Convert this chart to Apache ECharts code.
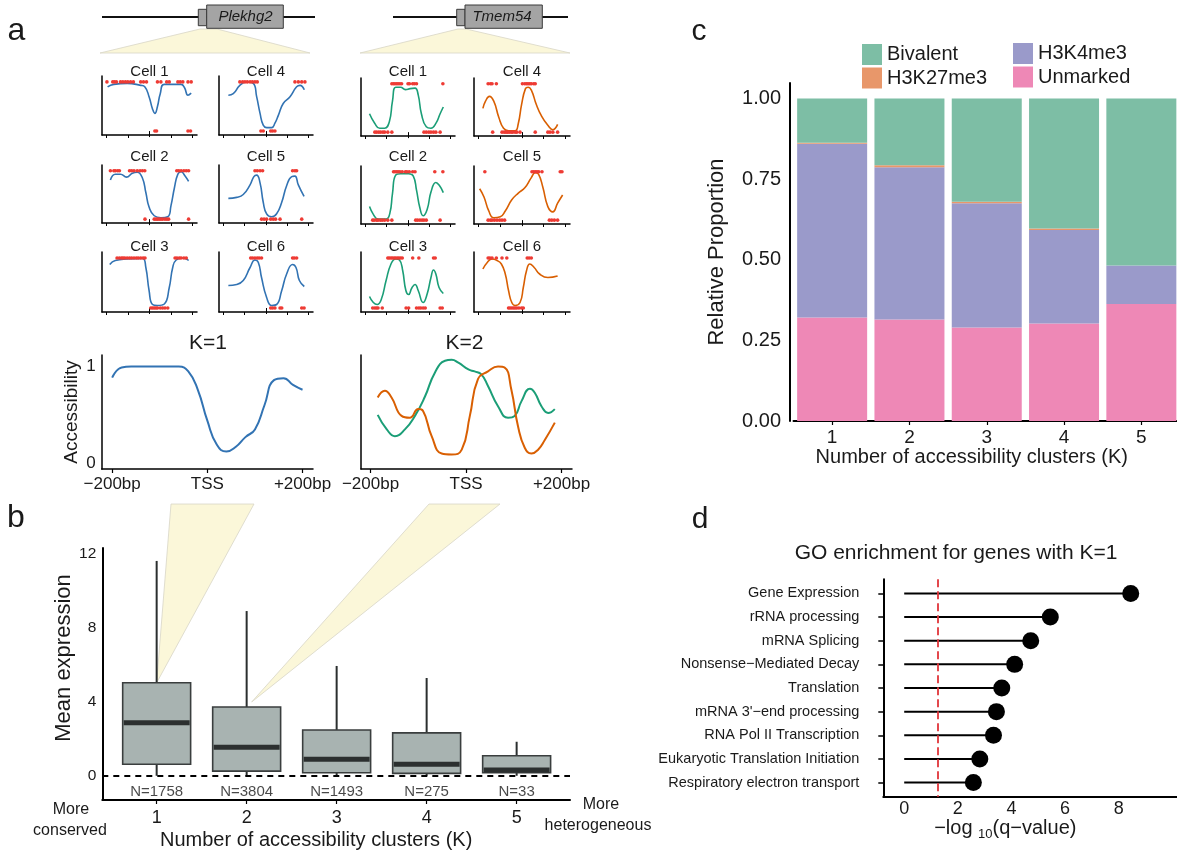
<!DOCTYPE html>
<html>
<head>
<meta charset="utf-8">
<script src="https://cdn.jsdelivr.net/npm/echarts@6/dist/echarts.min.js"></script>
<style>
  html, body { margin: 0; padding: 0; background: #fff; }
  #chart { width: 1177px; height: 853px; }
</style>
</head>
<body>
<div id="chart"></div>
<script>
const FONT = '"Liberation Sans", Arial, Helvetica, sans-serif';
const INK = '#1a1a1a';

// ---------- Panel a: single-cell accessibility around the TSS ----------
// curve: [bp from TSS, smoothed accessibility]; open / closed: read positions (bp)
const plekCell1Curve = [[-194,0.9],[-165,0.95],[-103,0.97],[-40,0.93],[-21,0.9],[-1,0.7],[15,0.45],[26,0.36],[38,0.5],[51,0.76],[70,0.95],[148,0.95],[164,0.88],[180,0.73],[195,0.77]];
const plekCell1Open = [-197,-170,-162,-153,-134,-123,-111,-100,-87,-74,-40,-27,-13,38,54,81,93,133,144,156,180,195];
const plekCell1Closed = [26,34,180,192];
const plekCell2Curve = [[-181,0.81],[-158,0.93],[-134,0.93],[-106,0.87],[-79,0.95],[-56,0.97],[-32,0.85],[-16,0.55],[-1,0.25],[23,0.07],[54,0.03],[86,0.05],[101,0.28],[117,0.65],[133,0.93],[148,0.98],[164,0.91],[183,0.78]];
const plekCell2Open = [-181,-165,-158,-147,-139,-92,-82,-71,-56,-43,-32,-21,128,137,148,161,172,183];
const plekCell2Closed = [-20,23,31,38,46,54,62,73,82,90,183];
const plekCell3Curve = [[-184,0.87],[-158,0.95],[-103,0.98],[-32,0.99],[-16,0.81],[-1,0.35],[15,0.07],[38,0.05],[70,0.08],[93,0.41],[109,0.81],[125,0.96],[156,1.0],[172,0.98],[183,0.95]];
const plekCell3Open = [-150,-139,-129,-122,-114,-103,-92,-82,-71,-60,-51,-40,-29,-20,120,129,140,148,161,172];
const plekCell3Closed = [7,15,23,31,38,51,62,73,86];
const plekCell4Curve = [[-176,0.73],[-153,0.76],[-122,0.93],[-90,1.0],[-59,0.97],[-43,0.7],[-27,0.36],[-12,0.12],[4,0.07],[28,0.07],[43,0.16],[59,0.32],[82,0.56],[114,0.7],[145,0.9],[161,0.93],[181,0.84]];
const plekCell4Open = [-122,-109,-98,-87,-74,-63,-51,-40,137,153,169,184];
const plekCell4Closed = [-23,-12,23,32,43];
const plekCell5Curve = [[-176,0.43],[-137,0.45],[-106,0.51],[-74,0.71],[-56,0.88],[-43,0.91],[-27,0.75],[-12,0.35],[4,0.11],[28,0.05],[51,0.11],[75,0.35],[98,0.69],[122,0.88],[137,0.89],[153,0.71],[180,0.47]];
const plekCell5Open = [-51,-40,-27,-15,126,137,145];
const plekCell5Closed = [-20,-8,4,23,35,46,67,169];
const plekCell6Curve = [[-176,0.45],[-137,0.47],[-106,0.55],[-74,0.81],[-51,0.96],[-35,0.91],[-20,0.61],[4,0.21],[28,0.05],[51,0.07],[75,0.35],[98,0.68],[126,0.87],[142,0.81],[158,0.55],[181,0.43]];
const plekCell6Open = [-71,-62,-51,-40,-31,-20,126,134,145];
const plekCell6Closed = [23,32,43,67,75,169,180];

const tmemCell1Curve = [[-180,0.38],[-155,0.18],[-132,0.08],[-109,0.08],[-87,0.21],[-72,0.64],[-57,0.93],[-34,0.93],[-11,0.88],[11,0.9],[34,0.91],[49,0.77],[64,0.38],[87,0.11],[109,0.08],[132,0.18],[152,0.38],[167,0.52]];
const tmemCell1Open = [-75,-67,-60,-52,-45,-37,-29,1,8,23,31,41,165];
const tmemCell1Closed = [-155,-147,-137,-128,-117,-109,-94,-75,76,87,99,109,121,132,152];
const tmemCell2Curve = [[-180,0.28],[-162,0.12],[-140,0.02],[-102,0.02],[-84,0.15],[-72,0.55],[-57,0.93],[-34,0.96],[4,0.96],[26,0.91],[41,0.62],[57,0.25],[72,0.09],[91,0.22],[109,0.58],[132,0.78],[148,0.72],[167,0.57]];
const tmemCell2Open = [-67,-60,-52,-45,-37,-26,-11,-4,7,23,34,127,165];
const tmemCell2Closed = [-165,-158,-147,-140,-129,-120,-109,-94,-75,37,46,57,67,76,87,152];
const tmemCell3Curve = [[-180,0.23],[-162,0.11],[-144,0.07],[-124,0.18],[-102,0.55],[-79,0.88],[-57,0.98],[-39,0.96],[-24,0.75],[-9,0.35],[4,0.27],[19,0.4],[34,0.47],[49,0.35],[72,0.11],[91,0.28],[109,0.61],[121,0.76],[132,0.68],[147,0.41],[167,0.29]];
const tmemCell3Open = [-94,-87,-79,-72,-64,-57,-49,-42,-34,-26,23,52,121,129];
const tmemCell3Closed = [-165,-155,-147,-140,-120,-8,4,41,52,61,72,82,152,162];
const tmemCell4Curve = [[-179,0.49],[-167,0.64],[-149,0.74],[-129,0.64],[-106,0.31],[-84,0.08],[-61,0.03],[-31,0.03],[-16,0.18],[-1,0.57],[17,0.9],[29,0.93],[44,0.87],[67,0.57],[90,0.34],[120,0.14],[143,0.05],[165,0.16]];
const tmemCell4Open = [-155,-144,-137,-117,3,14,22,29,37,44,55,62];
const tmemCell4Closed = [-134,-91,-81,-73,-66,-58,-49,-42,-31,-23,-8,62,120,130,143,165];
const tmemCell5Curve = [[-194,0.65],[-174,0.48],[-152,0.19],[-129,0.05],[-99,0.07],[-76,0.19],[-46,0.42],[-16,0.56],[14,0.67],[44,0.88],[62,0.98],[77,0.95],[97,0.68],[120,0.28],[143,0.17],[165,0.35],[188,0.52]];
const tmemCell5Open = [-170,47,55,63,70,78,93,177,185];
const tmemCell5Closed = [-155,-144,-137,-126,-114,-102,-91,-79,127,138,150,165];
const tmemCell6Curve = [[-179,0.78],[-159,0.91],[-137,0.98],[-114,0.95],[-94,0.88],[-76,0.68],[-61,0.35],[-46,0.11],[-31,0.05],[-8,0.11],[7,0.41],[22,0.75],[37,0.88],[57,0.81],[82,0.68],[120,0.61],[165,0.64]];
const tmemCell6Open = [-155,-147,-137,-117,-91,-69,25,34,44];
const tmemCell6Closed = [-61,-54,-46,-38,-31,-23,-13,-1,7];

// Cluster-level profiles
const tssTicks = [-200, 0, 200];
const tssTickLabels = ['\u2212200bp', 'TSS', '+200bp'];
const k1Positions = [-200,-180,-160,-140,-120,-100,-80,-60,-40,-20,0,20,40,60,80,100,120,140,160,180,200];
const k1Accessibility = [0.885,0.99,1.0,1.0,1.0,1.0,1.0,1.0,0.95,0.76,0.44,0.19,0.12,0.17,0.27,0.35,0.6,0.86,0.88,0.81,0.76];
const k2ClusterGreen = [[-185,0.5],[-166,0.35],[-149,0.28],[-128,0.35],[-107,0.49],[-86,0.69],[-65,0.94],[-44,1.06],[-30,1.07],[-16,1.04],[5,0.97],[18,0.95],[32,0.92],[46,0.8],[67,0.59],[88,0.47],[102,0.49],[116,0.64],[134,0.77],[144,0.73],[158,0.59],[172,0.52],[186,0.56]];
const k2ClusterOrange = [[-185,0.68],[-170,0.75],[-156,0.68],[-135,0.49],[-118,0.47],[-100,0.56],[-90,0.54],[-72,0.28],[-51,0.1],[-30,0.09],[-9,0.14],[8,0.49],[25,0.87],[46,0.95],[67,1.0],[81,0.99],[95,0.76],[109,0.38],[123,0.16],[137,0.1],[151,0.14],[165,0.24],[186,0.42]];

// ---------- Panel b: expression by number of accessibility clusters ----------
const clusterK = [1, 2, 3, 4, 5];
const exprMin = [0, 0, 0, 0, 0];
const exprQ1 = [0.62, 0.25, 0.16, 0.13, 0.16];
const exprMedian = [2.87, 1.54, 0.89, 0.62, 0.31];
const exprQ3 = [5.03, 3.72, 2.48, 2.32, 1.08];
const exprMax = [11.62, 8.91, 5.94, 5.29, 1.84];
const geneCounts = [1758, 3804, 1493, 275, 33];
const exprTicks = [0, 4, 8, 12];

// ---------- Panel c: chromatin marks per K ----------
const markUnmarked = [0.321, 0.315, 0.29, 0.302, 0.363];
const markH3K4me3 = [0.539, 0.472, 0.385, 0.29, 0.119];
const markH3K27me3 = [0.003, 0.006, 0.005, 0.005, 0.0];
const markBivalent = [0.137, 0.207, 0.32, 0.403, 0.518];
const proportionTicks = [0, 0.25, 0.5, 0.75, 1];

// ---------- Panel d: GO enrichment ----------
const goTerms = ['Gene Expression', 'rRNA processing', 'mRNA Splicing', 'Nonsense\u2212Mediated Decay', 'Translation', 'mRNA 3\'\u2212end processing', 'RNA Pol II Transcription', 'Eukaryotic Translation Initiation', 'Respiratory electron transport'];
const goScores = [8.45, 5.45, 4.72, 4.12, 3.64, 3.44, 3.33, 2.82, 2.58];
const goTicks = [0, 2, 4, 6, 8];
const qThreshold = 1.25;

// ---------- colours ----------
const BLUE = '#3273b3', GREEN = '#1b9e77', ORANGE = '#d95f02', DOT = '#ee3b34';
const C_BIV = '#7dbea5', C_K27 = '#e8976a', C_K4 = '#9a9aca', C_UNM = '#ee88b6';

// ---------- option assembly ----------
const grid = [], xAxis = [], yAxis = [], series = [], gfx = [];
const noSplit = { show: false };
const SMOOTH = 0.5;

function addGrid(left, top, width, height) {
  grid.push({ left, top, width, height, containLabel: false, outerBoundsMode: 'none' });
  return grid.length - 1;
}
function txt(text, x, y, size, extra) {
  extra = extra || {};
  return {
    type: 'text', x, y, z: 10, silent: true,
    style: {
      text, font: (extra.fontStyle || '') + ' ' + size + 'px ' + FONT, fill: extra.fill || INK,
      align: extra.align || 'center', verticalAlign: 'middle',
      textAlign: extra.align || 'center', textVerticalAlign: 'middle'
    }
  };
}

function addCell(left, top, width, height, curve, open, closed, color, title, titleY) {
  const gi = addGrid(left, top, width, height);
  const xi = xAxis.length;
  xAxis.push({
    gridIndex: gi, type: 'value', min: -220, max: 222, position: 'bottom',
    axisLine: { show: true, onZero: false, lineStyle: { color: '#000', width: 1.5 } },
    axisTick: { show: true, customValues: [-200, -100, 100, 200], length: 3, lineStyle: { color: '#000', width: 1 } },
    axisLabel: { show: false }, splitLine: noSplit
  });
  xAxis.push({
    gridIndex: gi, type: 'value', min: -220, max: 222, position: 'bottom',
    axisLine: { show: false },
    axisTick: { show: true, customValues: [0], length: 6, lineStyle: { color: '#000', width: 1 } },
    axisLabel: { show: false }, splitLine: noSplit
  });
  const yi = yAxis.length;
  yAxis.push({
    gridIndex: gi, type: 'value', min: -0.08, max: 1.12,
    axisLine: { show: true, onZero: false, lineStyle: { color: '#000', width: 1.5 } },
    axisTick: { show: false }, axisLabel: { show: false }, splitLine: noSplit
  });
  series.push({
    type: 'line', xAxisIndex: xi, yAxisIndex: yi, data: curve, smooth: SMOOTH,
    symbol: 'none', lineStyle: { color, width: 1.6 }, z: 3, silent: true
  });
  series.push({
    type: 'scatter', xAxisIndex: xi, yAxisIndex: yi,
    data: open.map(p => [p, 1]).concat(closed.map(p => [p, 0])),
    symbolSize: 3.6, itemStyle: { color: DOT, opacity: 1 }, z: 4, silent: true
  });
  gfx.push(txt(title, left + width / 2, titleY, 15));
}

// small multiples
const plekCells = [
  [plekCell1Curve, plekCell1Open, plekCell1Closed, 'Cell 1'],
  [plekCell2Curve, plekCell2Open, plekCell2Closed, 'Cell 2'],
  [plekCell3Curve, plekCell3Open, plekCell3Closed, 'Cell 3'],
  [plekCell4Curve, plekCell4Open, plekCell4Closed, 'Cell 4'],
  [plekCell5Curve, plekCell5Open, plekCell5Closed, 'Cell 5'],
  [plekCell6Curve, plekCell6Open, plekCell6Closed, 'Cell 6']
];
const tmemCells = [
  [tmemCell1Curve, tmemCell1Open, tmemCell1Closed, 'Cell 1', GREEN],
  [tmemCell2Curve, tmemCell2Open, tmemCell2Closed, 'Cell 2', GREEN],
  [tmemCell3Curve, tmemCell3Open, tmemCell3Closed, 'Cell 3', GREEN],
  [tmemCell4Curve, tmemCell4Open, tmemCell4Closed, 'Cell 4', ORANGE],
  [tmemCell5Curve, tmemCell5Open, tmemCell5Closed, 'Cell 5', ORANGE],
  [tmemCell6Curve, tmemCell6Open, tmemCell6Closed, 'Cell 6', ORANGE]
];
const titleRows = [72, 157, 247];
const plekLayout = { cols: [102, 219], widths: [95, 94], rows: [76, 165, 252], heights: [59, 58, 60] };
const tmemLayout = { cols: [361, 474], widths: [94, 96], rows: [78, 166, 252], heights: [58, 58, 60] };
plekCells.forEach((c, i) => {
  const col = i < 3 ? 0 : 1, row = i % 3;
  addCell(plekLayout.cols[col], plekLayout.rows[row], plekLayout.widths[col], plekLayout.heights[row], c[0], c[1], c[2], BLUE, c[3], titleRows[row]);
});
tmemCells.forEach((c, i) => {
  const col = i < 3 ? 0 : 1, row = i % 3;
  addCell(tmemLayout.cols[col], tmemLayout.rows[row], tmemLayout.widths[col], tmemLayout.heights[row], c[0], c[1], c[2], c[4], c[3], titleRows[row]);
});

// cluster profiles K=1 / K=2
function addProfile(left, width, showY, xmin, xmax) {
  const gi = addGrid(left, 355, width, 114);
  const xi = xAxis.length;
  xAxis.push({
    gridIndex: gi, type: 'value', min: xmin, max: xmax,
    axisLine: { show: true, onZero: false, lineStyle: { color: '#000', width: 1.5 } },
    axisTick: { show: true, customValues: tssTicks, length: 4, lineStyle: { color: '#000', width: 1.2 } },
    axisLabel: {
      customValues: tssTicks, margin: 7, fontSize: 17, fontFamily: FONT, color: INK,
      formatter: v => tssTickLabels[tssTicks.indexOf(Math.round(v))]
    },
    splitLine: noSplit
  });
  const yi = yAxis.length;
  yAxis.push({
    gridIndex: gi, type: 'value', min: -0.06, max: 1.12,
    axisLine: { show: true, onZero: false, lineStyle: { color: '#000', width: 1.5 } },
    axisTick: { show: false },
    axisLabel: showY ? { customValues: [0, 1], margin: 6, fontSize: 17, fontFamily: FONT, color: INK, formatter: v => String(Math.round(v)) } : { show: false },
    name: showY ? 'Accessibility' : '', nameLocation: 'middle', nameGap: 20, nameRotate: 90,
    nameTextStyle: { fontSize: 19, fontFamily: FONT, color: INK },
    splitLine: noSplit
  });
  return [xi, yi];
}
const k1Axes = addProfile(101.7, 211.3, true, -222, 222);
series.push({
  type: 'line', xAxisIndex: k1Axes[0], yAxisIndex: k1Axes[1],
  data: k1Positions.map((p, i) => [p, k1Accessibility[i]]),
  smooth: SMOOTH, symbol: 'none', lineStyle: { color: BLUE, width: 2 }, silent: true
});
const k2Axes = addProfile(361, 211, false, -220, 222);
series.push({
  type: 'line', xAxisIndex: k2Axes[0], yAxisIndex: k2Axes[1], data: k2ClusterGreen,
  smooth: SMOOTH, symbol: 'none', lineStyle: { color: GREEN, width: 2 }, silent: true
});
series.push({
  type: 'line', xAxisIndex: k2Axes[0], yAxisIndex: k2Axes[1], data: k2ClusterOrange,
  smooth: SMOOTH, symbol: 'none', lineStyle: { color: ORANGE, width: 2 }, silent: true
});

// ---------- panel b: boxplots ----------
const bGrid = addGrid(102.3, 548, 467.7, 252);
const bX = xAxis.length;
xAxis.push({
  gridIndex: bGrid, type: 'value', min: 0.396, max: 5.593,
  axisLine: { show: true, onZero: false, lineStyle: { color: '#000', width: 2 } },
  axisTick: { show: true, customValues: clusterK, length: 4, lineStyle: { color: '#000', width: 1.2 } },
  axisLabel: { customValues: clusterK, margin: 9, fontSize: 18, fontFamily: FONT, color: INK },
  name: 'Number of accessibility clusters (K)', nameLocation: 'middle', nameGap: 30,
  nameTextStyle: { fontSize: 20, fontFamily: FONT, color: INK, padding: [0, 40, 0, 0] },
  splitLine: noSplit
});
const bY = yAxis.length;
yAxis.push({
  gridIndex: bGrid, type: 'value', min: -1.31, max: 12.32,
  axisLine: { show: true, onZero: false, lineStyle: { color: '#000', width: 2 } },
  axisTick: { show: false },
  axisLabel: { customValues: exprTicks, margin: 6, fontSize: 15.5, fontFamily: FONT, color: INK },
  name: 'Mean expression', nameLocation: 'middle', nameGap: 21, nameRotate: 90,
  nameTextStyle: { fontSize: 22, fontFamily: FONT, color: INK, padding: [0, 0, 0, 32] },
  splitLine: noSplit
});
series.push({
  type: 'custom', xAxisIndex: bX, yAxisIndex: bY, silent: true, z: 3,
  data: clusterK.map((k, i) => [k, exprMin[i], exprQ1[i], exprMedian[i], exprQ3[i], exprMax[i]]),
  encode: { x: 0, y: [1, 2, 3, 4, 5] },
  renderItem: (params, api) => {
    const k = api.value(0);
    const lo = api.coord([k, api.value(1)]), q1 = api.coord([k, api.value(2)]);
    const md = api.coord([k, api.value(3)]), q3 = api.coord([k, api.value(4)]);
    const hi = api.coord([k, api.value(5)]);
    const w = api.size([0.755, 0])[0];
    const dark = '#2b2f2f';
    return {
      type: 'group', children: [
        { type: 'line', shape: { x1: hi[0], y1: hi[1], x2: q3[0], y2: q3[1] }, style: { stroke: dark, lineWidth: 2 } },
        { type: 'line', shape: { x1: lo[0], y1: lo[1], x2: q1[0], y2: q1[1] }, style: { stroke: dark, lineWidth: 2 } },
        { type: 'rect', shape: { x: q3[0] - w / 2, y: q3[1], width: w, height: q1[1] - q3[1] }, style: { fill: '#a8b3b1', stroke: '#3a3e3e', lineWidth: 1.6 } },
        { type: 'line', shape: { x1: md[0] - w / 2 + 1, y1: md[1], x2: md[0] + w / 2 - 1, y2: md[1] }, style: { stroke: dark, lineWidth: 5 } }
      ]
    };
  }
});
const nLabelY = -0.87;
series.push({
  type: 'scatter', xAxisIndex: bX, yAxisIndex: bY, silent: true, z: 4,
  data: clusterK.map(k => [k, nLabelY]), symbolSize: 1, itemStyle: { color: 'rgba(0,0,0,0)' },
  label: { show: true, position: 'inside', formatter: p => 'N=' + geneCounts[p.dataIndex], fontSize: 15, fontFamily: FONT, color: INK },
  markLine: {
    silent: true, symbol: 'none', label: { show: false },
    lineStyle: { color: '#000', width: 2, type: [6, 5] },
    data: [{ yAxis: 0 }]
  }
});

// ---------- panel c: stacked proportions ----------
const cGrid = addGrid(793.5, 83, 386.5, 338);
const cX = xAxis.length;
xAxis.push({
  gridIndex: cGrid, type: 'category', data: clusterK.map(String), boundaryGap: true,
  axisLine: { show: true, onZero: false, lineStyle: { color: '#000', width: 2 } },
  axisTick: { show: true, alignWithLabel: true, length: 4, lineStyle: { color: '#000', width: 1.2 } },
  axisLabel: { margin: 7, fontSize: 19, fontFamily: FONT, color: INK },
  name: 'Number of accessibility clusters (K)', nameLocation: 'middle', nameGap: 26,
  nameTextStyle: { fontSize: 20, fontFamily: FONT, color: INK, padding: [0, 30, 0, 0] },
  splitLine: noSplit
});
const cY = yAxis.length;
yAxis.push({
  gridIndex: cGrid, type: 'value', min: 0, max: 1.048, offset: 3.5,
  axisLine: { show: true, onZero: false, lineStyle: { color: '#000', width: 2 } },
  axisTick: { show: false },
  axisLabel: { customValues: proportionTicks, margin: 9, fontSize: 20, fontFamily: FONT, color: INK, formatter: v => v.toFixed(2) },
  name: 'Relative Proportion', nameLocation: 'middle', nameGap: 62, nameRotate: 90,
  nameTextStyle: { fontSize: 22, fontFamily: FONT, color: INK },
  splitLine: noSplit
});
[['Unmarked', markUnmarked, C_UNM], ['H3K4me3', markH3K4me3, C_K4], ['H3K27me3', markH3K27me3, C_K27], ['Bivalent', markBivalent, C_BIV]]
  .forEach(([name, vals, color]) => {
    series.push({
      type: 'bar', name, stack: 'marks', xAxisIndex: cX, yAxisIndex: cY, barWidth: 70, silent: true,
      data: vals, itemStyle: { color, opacity: 1 }
    });
  });

// ---------- panel d: GO lollipops ----------
const dGrid = addGrid(883.3, 579.3, 297, 217.4);
const dX = xAxis.length;
xAxis.push({
  gridIndex: dGrid, type: 'value', min: -0.78, max: 10.3,
  axisLine: { show: true, onZero: false, lineStyle: { color: '#000', width: 2 } },
  axisTick: { show: false },
  axisLabel: { customValues: goTicks, margin: 3, fontSize: 18, fontFamily: FONT, color: INK },
  name: '{n|\u2212log }{s|10}{n|(q\u2212value)}', nameLocation: 'middle', nameGap: 11,
  nameTextStyle: {
    fontFamily: FONT, color: INK, padding: [0, 53, 0, 0],
    rich: {
      n: { fontSize: 20, fontFamily: FONT, color: INK, verticalAlign: 'bottom', padding: [0, 0, 2, 0] },
      s: { fontSize: 13, fontFamily: FONT, color: INK, verticalAlign: 'bottom' }
    }
  },
  splitLine: noSplit
});
const goRows = goTerms.map((t, i) => i + 1);
const dY = yAxis.length;
yAxis.push({
  gridIndex: dGrid, type: 'value', min: 0.4, max: 9.6, inverse: true,
  axisLine: { show: true, onZero: false, lineStyle: { color: '#000', width: 2 } },
  axisTick: { show: true, customValues: goRows, length: 5, lineStyle: { color: '#000', width: 1.5 } },
  axisLabel: { customValues: goRows, margin: 24, fontSize: 14.5, fontFamily: FONT, color: INK, formatter: v => goTerms[Math.round(v) - 1] },
  splitLine: noSplit
});
series.push({
  type: 'custom', xAxisIndex: dX, yAxisIndex: dY, silent: true, z: 3,
  data: goScores.map((s, i) => [s, goRows[i]]), encode: { x: 0, y: 1 },
  renderItem: (params, api) => {
    const row = api.value(1);
    const a = api.coord([0, row]), b = api.coord([api.value(0), row]);
    return { type: 'line', shape: { x1: a[0], y1: a[1], x2: b[0], y2: b[1] }, style: { stroke: '#000', lineWidth: 2 } };
  }
});
series.push({
  type: 'scatter', xAxisIndex: dX, yAxisIndex: dY, silent: true, z: 4,
  data: goScores.map((s, i) => [s, goRows[i]]), symbolSize: 17, itemStyle: { color: '#000', opacity: 1 },
  markLine: {
    silent: true, symbol: 'none', label: { show: false },
    lineStyle: { color: '#e0353a', width: 1.8, type: [8, 4] },
    data: [{ xAxis: qThreshold }]
  }
});

// ---------- annotations: panel letters, gene models, captions ----------
const geneStyle = { fill: '#a4a4a4', stroke: '#3a3a3a', lineWidth: 1 };
const zoomFill = { fill: '#fbf7d9', stroke: '#d8d6c6', lineWidth: 0.8 };
gfx.push(
  { type: 'polygon', z: 0, silent: true, shape: { points: [[200, 29], [217, 29], [310, 53], [100, 53]] }, style: zoomFill },
  { type: 'line', z: 1, silent: true, shape: { x1: 102, y1: 17, x2: 315, y2: 17 }, style: { stroke: '#111', lineWidth: 2.2 } },
  { type: 'rect', z: 2, silent: true, shape: { x: 198.3, y: 9.3, width: 8.4, height: 16.4 }, style: geneStyle },
  { type: 'rect', z: 2, silent: true, shape: { x: 206.7, y: 5, width: 76.6, height: 23.3 }, style: geneStyle },
  txt('Plekhg2', 245.5, 16.5, 15, { fontStyle: 'italic' }),
  { type: 'polygon', z: 0, silent: true, shape: { points: [[458, 29], [466, 29], [570, 53], [360, 53]] }, style: zoomFill },
  { type: 'line', z: 1, silent: true, shape: { x1: 393, y1: 17, x2: 568, y2: 17 }, style: { stroke: '#111', lineWidth: 2.2 } },
  { type: 'rect', z: 2, silent: true, shape: { x: 456.7, y: 9.3, width: 8.3, height: 16.4 }, style: geneStyle },
  { type: 'rect', z: 2, silent: true, shape: { x: 465, y: 5, width: 77.3, height: 23.3 }, style: geneStyle },
  txt('Tmem54', 502, 16.5, 15, { fontStyle: 'italic' }),
  txt('a', 16.5, 31, 32),
  txt('b', 16, 518, 32),
  txt('c', 699, 32, 30),
  txt('d', 700, 520, 30),
  txt('K=1', 208, 343, 21),
  txt('K=2', 464.5, 343, 21),
  txt('More', 71, 810, 16),
  txt('conserved', 70, 830.5, 16),
  txt('More', 601, 805, 16),
  txt('heterogeneous', 598, 826, 16),
  txt('GO enrichment for genes with K=1', 956, 553, 21)
);

const option = {
  animation: false,
  backgroundColor: '#ffffff',
  textStyle: { fontFamily: FONT },
  grid, xAxis, yAxis, series,
  legend: [
    {
      data: ['Bivalent', 'H3K27me3'], orient: 'vertical', left: 862, top: 44, padding: 0,
      icon: 'rect', itemWidth: 20, itemHeight: 21, itemGap: 2.5, selectedMode: false,
      textStyle: { fontSize: 20, fontFamily: FONT, color: INK }
    },
    {
      data: ['H3K4me3', 'Unmarked'], orient: 'vertical', left: 1013, top: 43, padding: 0,
      icon: 'rect', itemWidth: 20, itemHeight: 21, itemGap: 2.5, selectedMode: false,
      textStyle: { fontSize: 20, fontFamily: FONT, color: INK }
    }
  ],
  graphic: { elements: gfx }
};

const chart = echarts.init(document.getElementById('chart'), null, { renderer: 'canvas' });
chart.setOption(option);

// zoom wedges linking the K=1 / K=2 profiles to the upper edge of their boxes
const apex1 = chart.convertToPixel({ gridIndex: bGrid }, [clusterK[0], exprQ3[0]]);
const apex2 = chart.convertToPixel({ gridIndex: bGrid }, [clusterK[1], exprQ3[1]]);
chart.setOption({
  graphic: {
    elements: [
      { id: 'wedgeK1', type: 'polygon', z: 0, silent: true, shape: { points: [[171, 504], [254, 504], apex1] }, style: zoomFill },
      { id: 'wedgeK2', type: 'polygon', z: 0, silent: true, shape: { points: [[429, 504], [500, 504], [apex2[0] + 5, apex2[1] - 5]] }, style: zoomFill }
    ]
  }
});
</script>
</body>
</html>
